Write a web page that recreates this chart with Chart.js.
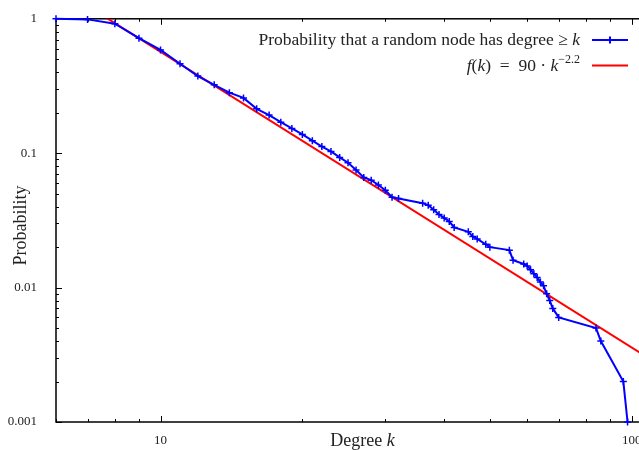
<!DOCTYPE html>
<html>
<head>
<meta charset="utf-8">
<script src="https://cdn.jsdelivr.net/npm/chart.js@4.4.1/dist/chart.umd.min.js"></script>
<style>
    html, body { margin: 0; padding: 0; background: #fff; overflow: hidden; }
</style>
</head>
<body>
<canvas id="degreeChart" width="680" height="450"></canvas>
<script>
// Degree distribution (complementary cumulative)
const degrees = [6, 7, 8, 9, 10, 11, 12, 13, 14, 15, 16, 17, 18, 19, 20, 21, 22, 23, 24, 25,
    26, 27, 28, 29, 30, 31, 32, 36, 37, 38, 39, 40, 41, 42, 45, 46, 47, 49, 50, 55,
    56, 59, 60, 61, 62, 63, 64, 65, 66, 67, 68, 70, 84, 86, 96, 98];
const probability = [1, 0.99, 0.92, 0.717, 0.587, 0.463, 0.375, 0.323, 0.282, 0.258,
    0.214, 0.192, 0.170, 0.153, 0.138, 0.124, 0.112, 0.103, 0.093, 0.085,
    0.075, 0.066, 0.063, 0.058, 0.053, 0.047, 0.046, 0.0425, 0.041, 0.038,
    0.035, 0.033, 0.031, 0.028, 0.026, 0.024, 0.023, 0.021, 0.020, 0.019,
    0.016, 0.015, 0.0145, 0.0136, 0.0127, 0.0119, 0.011, 0.0103, 0.009, 0.008,
    0.007, 0.006, 0.005, 0.004, 0.002, 0.001];

// Power-law fit f(k) = 90 * k^-2.2
const fitAmplitude = 90;
const fitExponent = -2.2;
const fitDegrees = [6, 120];

const xTickLabels = [10, 100];
const yTickLabels = [0.001, 0.01, 0.1, 1];
const xRange = [6, 120];
const yRange = [0.001, 1];

const serif = '"Liberation Serif", "DejaVu Serif", serif';

const blueSeries = degrees.map((k, i) => ({ x: k, y: probability[i] }));
const redSeries = fitDegrees.map(k => ({ x: k, y: fitAmplitude * Math.pow(k, fitExponent) }));

function minorValues(lo, hi) {
    const out = [];
    for (let d = Math.pow(10, Math.floor(Math.log10(lo))); d < hi; d *= 10) {
        for (let m = 1; m < 10; m++) {
            const v = d * m;
            if (v >= lo && v <= hi) out.push(v);
        }
    }
    return out;
}

// draws a list of text runs so that the whole line ends at rightX
function drawRuns(ctx, runs, rightX, y) {
    let total = 0;
    runs.forEach(r => { ctx.font = r.font; r.w = ctx.measureText(r.text).width; total += r.w; });
    let x = rightX - total;
    runs.forEach(r => {
        ctx.font = r.font;
        ctx.fillText(r.text, x, y + (r.dy || 0));
        x += r.w;
    });
    return total;
}

const gnuplotFrame = {
    id: 'gnuplotFrame',
    beforeDatasetsDraw(chart) {
        const { ctx, chartArea: a, scales } = chart;
        ctx.save();
        ctx.strokeStyle = '#000';
        ctx.lineWidth = 1.5;
        ctx.strokeRect(a.left, a.top, a.right - a.left, a.bottom - a.top);
        ctx.lineWidth = 1;
        ctx.beginPath();
        minorValues(xRange[0], xRange[1]).forEach(v => {
            const px = Math.round(scales.x.getPixelForValue(v)) + 0.5;
            const len = xTickLabels.includes(v) ? 6 : 3;
            ctx.moveTo(px, a.bottom); ctx.lineTo(px, a.bottom - len);
            ctx.moveTo(px, a.top); ctx.lineTo(px, a.top + len);
        });
        minorValues(yRange[0], yRange[1]).forEach(v => {
            const py = Math.round(scales.y.getPixelForValue(v)) + 0.5;
            const len = yTickLabels.includes(v) ? 6 : 3;
            ctx.moveTo(a.left, py); ctx.lineTo(a.left + len, py);
            ctx.moveTo(a.right, py); ctx.lineTo(a.right - len, py);
        });
        ctx.stroke();
        ctx.restore();
    },
    afterDraw(chart) {
        const { ctx, chartArea: a } = chart;
        ctx.save();
        ctx.fillStyle = '#222';
        ctx.textBaseline = 'alphabetic';

        // legend, gnuplot style: text on the left, sample on the right
        const roman = `17.5px ${serif}`;
        const italic = `italic 17.5px ${serif}`;
        const small = `12px ${serif}`;
        drawRuns(ctx, [
            { text: 'Probability that a random node has degree ≥ ', font: roman },
            { text: 'k', font: italic }
        ], 580, 45);
        drawRuns(ctx, [
            { text: 'f', font: italic },
            { text: '(', font: roman },
            { text: 'k', font: italic },
            { text: ')  =  90 · ', font: roman },
            { text: 'k', font: italic },
            { text: '−2.2', font: small, dy: -8 }
        ], 580, 71);

        ctx.lineWidth = 2;
        ctx.strokeStyle = '#0000ff';
        ctx.beginPath();
        ctx.moveTo(592, 40); ctx.lineTo(628, 40);
        ctx.moveTo(610, 36.5); ctx.lineTo(610, 43.5);
        ctx.stroke();
        ctx.strokeStyle = '#ff0000';
        ctx.beginPath();
        ctx.moveTo(592, 65.5); ctx.lineTo(628, 65.5);
        ctx.stroke();

        // axis titles
        ctx.fillStyle = '#222';
        ctx.font = `18px ${serif}`;
        const word = 'Degree ';
        const w1 = ctx.measureText(word).width;
        ctx.font = `italic 18px ${serif}`;
        const w2 = ctx.measureText('k').width;
        const cx = (a.left + a.right) / 2;
        ctx.font = `18px ${serif}`;
        ctx.fillText(word, cx - (w1 + w2) / 2, 446);
        ctx.font = `italic 18px ${serif}`;
        ctx.fillText('k', cx - (w1 + w2) / 2 + w1, 446);

        ctx.translate(26, (a.top + a.bottom) / 2 + 5);
        ctx.rotate(-Math.PI / 2);
        ctx.textAlign = 'center';
        ctx.font = `18px ${serif}`;
        ctx.fillText('Probability', 0, 0);
        ctx.restore();
    }
};

new Chart(document.getElementById('degreeChart'), {
    type: 'line',
    data: {
        datasets: [
            {
                label: 'Probability that a random node has degree ≥ k',
                data: blueSeries,
                borderColor: '#0000ff',
                backgroundColor: '#0000ff',
                borderWidth: 2,
                pointStyle: 'cross',
                pointRadius: 3.5,
                pointBorderWidth: 1.5,
                pointHoverRadius: 3.5,
                tension: 0,
                clip: false
            },
            {
                label: 'f(k) = 90 · k^-2.2',
                data: redSeries,
                borderColor: '#ff0000',
                backgroundColor: '#ff0000',
                borderWidth: 2,
                pointRadius: 0,
                tension: 0
            }
        ]
    },
    options: {
        responsive: false,
        animation: false,
        layout: { padding: { top: 16, right: 11, left: 0, bottom: 0 } },
        plugins: { legend: { display: false }, tooltip: { enabled: false } },
        scales: {
            x: {
                type: 'logarithmic',
                min: xRange[0],
                max: xRange[1],
                afterBuildTicks: s => { s.ticks = xTickLabels.map(v => ({ value: v })); },
                afterFit: s => { s.height = 28; },
                grid: { display: false },
                border: { display: false },
                ticks: {
                    color: '#222',
                    font: { family: serif, size: 13 },
                    padding: 3,
                    maxRotation: 0,
                    autoSkip: false,
                    callback: v => String(v)
                }
            },
            y: {
                type: 'logarithmic',
                min: yRange[0],
                max: yRange[1],
                afterBuildTicks: s => { s.ticks = yTickLabels.map(v => ({ value: v })); },
                afterFit: s => { s.width = 56; },
                grid: { display: false },
                border: { display: false },
                ticks: {
                    color: '#222',
                    font: { family: serif, size: 13 },
                    padding: 11,
                    autoSkip: false,
                    callback: v => String(v)
                }
            }
        }
    },
    plugins: [gnuplotFrame]
});
</script>
</body>
</html>
